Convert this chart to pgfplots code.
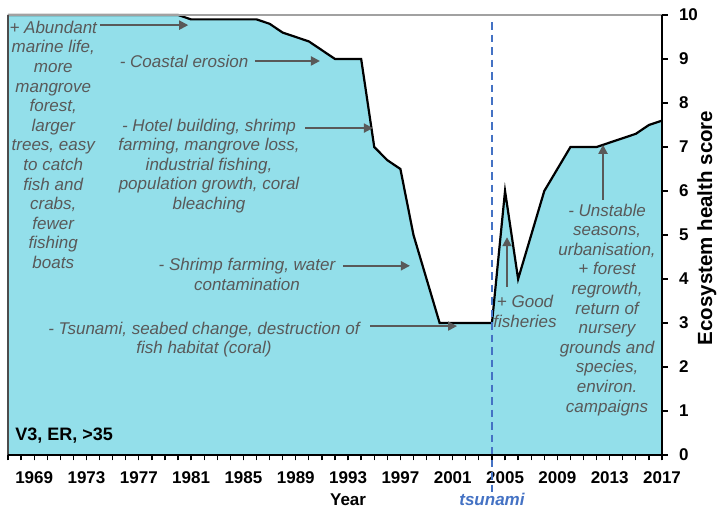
\documentclass[border=0pt]{standalone}
\usepackage{fontspec}
\setmainfont{Liberation Sans}
\usepackage{pgfplots}
\pgfplotsset{compat=1.18}
\usetikzlibrary{arrows.meta}
\definecolor{seafill}{HTML}{93DFEA}
\definecolor{notegray}{HTML}{595959}
\definecolor{tsublue}{HTML}{4472C4}

\newcommand\notefont{\itshape\fontsize{17}{19.6}\selectfont}
\tikzset{note/.style={text=notegray, font=\notefont, align=center, inner sep=0pt},
  noteArrow/.style={draw=notegray, line width=1.9pt, -{Triangle[length=9pt,width=9pt]}}}

\begin{document}
\begin{tikzpicture}
\useasboundingbox (0,0) rectangle (717pt,508pt);
\begin{axis}[
  at={(8pt,53pt)}, anchor=south west,
  scale only axis, width=654pt, height=440pt,
  xmin=1967, xmax=2017, ymin=0, ymax=10,
  axis line style={draw=none},
  clip=false,
  xtick={1969,1973,...,2017},
  minor xtick={1967,...,2017},
  ytick={0,...,10},
  xtick pos=bottom, ytick pos=right,
  yticklabel pos=right,
  tick align=outside,
  major tick length=5.5pt, minor tick length=5.5pt,
  every tick/.style={black, line width=1.3pt},
  tick label style={font=\bfseries\fontsize{17}{17}\selectfont},
  /pgf/number format/assume math mode=true,
  /pgf/number format/1000 sep={},
  xticklabel style={yshift=-8pt},
  yticklabel style={anchor=west, xshift=8pt},
]
\addplot[fill=seafill, draw=none] coordinates {
  (1967,10) (1968,10) (1969,10) (1970,10) (1971,10) (1972,10) (1973,10)
  (1974,10) (1975,10) (1976,10) (1977,10) (1978,10) (1979,10) (1980,10)
  (1981,9.9) (1982,9.9) (1983,9.9) (1984,9.9) (1985,9.9) (1986,9.9)
  (1987,9.8) (1988,9.6) (1989,9.5) (1990,9.4) (1991,9.2) (1992,9.0)
  (1993,9.0) (1994,9.0) (1995,7.0) (1996,6.7) (1997,6.5) (1998,5.0)
  (1999,4.0) (2000,3.0) (2001,3.0) (2002,3.0) (2003,3.0) (2004,3.0)
  (2005,6.0) (2006,4.0) (2007,5.0) (2008,6.0) (2009,6.5) (2010,7.0)
  (2011,7.0) (2012,7.0) (2013,7.1) (2014,7.2) (2015,7.3) (2016,7.5)
  (2017,7.6)
} \closedcycle;
\addplot[black, line width=2.2pt] coordinates {
  (1967,10) (1968,10) (1969,10) (1970,10) (1971,10) (1972,10) (1973,10)
  (1974,10) (1975,10) (1976,10) (1977,10) (1978,10) (1979,10) (1980,10)
  (1981,9.9) (1982,9.9) (1983,9.9) (1984,9.9) (1985,9.9) (1986,9.9)
  (1987,9.8) (1988,9.6) (1989,9.5) (1990,9.4) (1991,9.2) (1992,9.0)
  (1993,9.0) (1994,9.0) (1995,7.0) (1996,6.7) (1997,6.5) (1998,5.0)
  (1999,4.0) (2000,3.0) (2001,3.0) (2002,3.0) (2003,3.0) (2004,3.0)
  (2005,6.0) (2006,4.0) (2007,5.0) (2008,6.0) (2009,6.5) (2010,7.0)
  (2011,7.0) (2012,7.0) (2013,7.1) (2014,7.2) (2015,7.3) (2016,7.5)
  (2017,7.6)
};
% tsunami marker
\addplot[tsublue, line width=2.6pt, dash pattern=on 7.5pt off 5pt] coordinates {(2004,9.84) (2004,-0.84)};

% frame
\draw[color=black!37, line width=1.5pt] (rel axis cs:0,1) -- (rel axis cs:1,1);
\draw[color=black!70, line width=1.4pt] (rel axis cs:0,0) -- (rel axis cs:0,1);
\draw[black, line width=2pt] (rel axis cs:0,0) -- (rel axis cs:1,0) -- (rel axis cs:1,1);

% annotations
\node[note] at (axis cs:1970.46,7.05) {+ Abundant\\marine life,\\more\\mangrove\\forest,\\larger\\trees, easy\\to catch\\fish and\\crabs,\\fewer\\fishing\\boats};
\draw[noteArrow] (axis cs:1974.03,9.77) -- (axis cs:1980.78,9.77);

\node[note] at (axis cs:1980.46,8.955) {- Coastal erosion};
\draw[noteArrow] (axis cs:1985.88,8.955) -- (axis cs:1990.85,8.955);

\node[note] at (axis cs:1982.37,6.57) {- Hotel building, shrimp\\farming, mangrove loss,\\industrial fishing,\\population growth, coral\\bleaching};
\draw[noteArrow] (axis cs:1989.71,7.43) -- (axis cs:1994.9,7.43);

\node[note] at (axis cs:1985.27,4.10) {- Shrimp farming, water\\contamination};
\draw[noteArrow] (axis cs:1992.61,4.30) -- (axis cs:1997.73,4.30);

\node[note] at (axis cs:1981.98,2.625) {- Tsunami, seabed change, destruction of\\fish habitat (coral)};
\draw[noteArrow] (axis cs:1994.68,2.93) -- (axis cs:2001.33,2.93);

\node[note] at (axis cs:2006.53,3.26) {+ Good\\fisheries};
\draw[noteArrow] (axis cs:2005.15,3.82) -- (axis cs:2005.15,4.95);

\node[note] at (axis cs:2012.80,3.30) {- Unstable\\seasons,\\urbanisation,\\+ forest\\regrowth,\\return of\\nursery\\grounds and\\species,\\environ.\\campaigns};
\draw[noteArrow] (axis cs:2012.49,5.80) -- (axis cs:2012.49,7.05);

\node[anchor=west, font=\bfseries\fontsize{18}{18}\selectfont, inner sep=0pt] at (axis cs:1967.54,0.45) {V3, ER, >35};

% axis titles
\node[font=\bfseries\fontsize{17}{17}\selectfont] at (axis cs:1993.0,-1.02) {Year};
\node[text=tsublue, font=\bfseries\itshape\fontsize{17}{17}\selectfont] at (axis cs:2004,-1.0) {tsunami};
\node[rotate=90, anchor=base, inner sep=0pt, font=\bfseries\fontsize{20.5}{20.5}\selectfont] at (axis cs:2020.83,5.16) {Ecosystem health score};
\end{axis}
\end{tikzpicture}
\end{document}
